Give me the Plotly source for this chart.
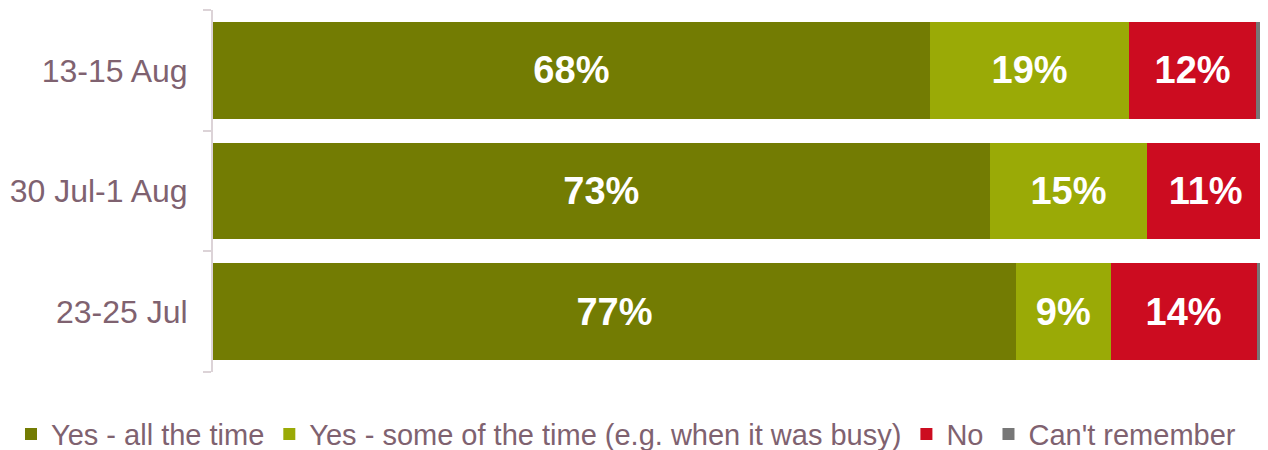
import plotly.graph_objects as go

periods = ["23-25 Jul", "30 Jul-1 Aug", "13-15 Aug"]

all_time = [76.4, 73.9, 68.2]
some_time = [9.0, 15.0, 19.0]
no = [13.9, 11.1, 12.0]
cant_remember = [0.7, 0.0, 0.8]

all_time_lbl = ["77%", "73%", "68%"]
some_time_lbl = ["9%", "15%", "19%"]
no_lbl = ["14%", "11%", "12%"]

series = [
    ("Yes - all the time", all_time, all_time_lbl, "#737c03"),
    ("Yes - some of the time (e.g. when it was busy)", some_time, some_time_lbl, "#9aaa06"),
    ("No", no, no_lbl, "#cc0c20"),
    ("Can't remember", cant_remember, None, "#777777"),
]

fig = go.Figure()
for name, vals, lbls, color in series:
    fig.add_trace(
        go.Bar(
            y=periods,
            x=vals,
            name=name,
            orientation="h",
            marker=dict(color=color, line=dict(width=0)),
            text=lbls,
            textposition="inside" if lbls else "none",
            insidetextanchor="middle",
            textfont=dict(family="Liberation Sans, Arial", size=38, color="white", weight="bold"),
            hoverinfo="skip",
        )
    )

# page body has an 8px margin, so the figure is a little smaller and offset
fig.update_layout(
    barmode="stack",
    bargap=0.2,
    width=1260,
    height=442,
    margin=dict(l=205, r=4, t=2, b=78, autoexpand=False),
    plot_bgcolor="white",
    paper_bgcolor="white",
    font=dict(family="Liberation Sans, Arial", color="#7f6270"),
    uniformtext=dict(minsize=38, mode="show"),
    legend=dict(
        orientation="h",
        x=-0.1922,
        xanchor="left",
        y=-0.101,
        yanchor="top",
        font=dict(size=29, color="#7f6270"),
        itemclick=False,
        traceorder="normal",
    ),
)
fig.update_xaxes(range=[0, 100], visible=False, fixedrange=True)
fig.update_yaxes(
    automargin=False,
    showline=True,
    linecolor="#dcd3d7",
    linewidth=2,
    ticks="outside",
    tickson="boundaries",
    ticklen=8,
    tickcolor="#dcd3d7",
    tickwidth=2,
    ticklabelstandoff=17,
    tickfont=dict(size=32, color="#7f6270"),
    showgrid=False,
    fixedrange=True,
)

fig.write_html("out.html")
